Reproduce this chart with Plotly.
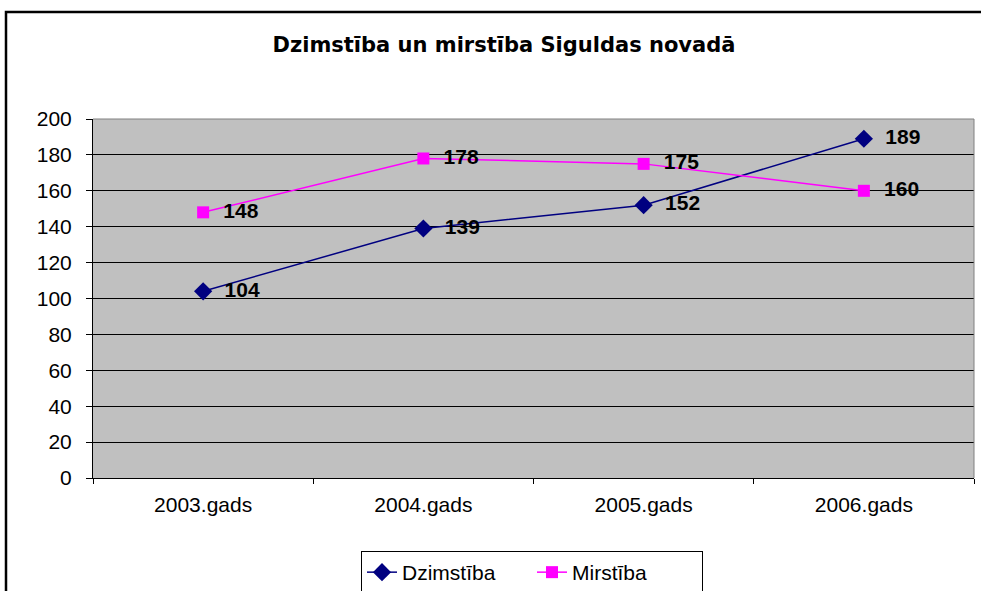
import plotly.graph_objects as go

categories = ["2003.gads", "2004.gads", "2005.gads", "2006.gads"]
dzimstiba = [104, 139, 152, 189]
mirstiba = [148, 178, 175, 160]
y_ticks = list(range(0, 201, 20))

FONT = "Liberation Sans, Arial, sans-serif"

fig = go.Figure()
fig.add_trace(go.Scatter(
    x=categories, y=dzimstiba, name="Dzimstība", mode="lines+markers+text",
    line=dict(color="#000080", width=1.5),
    marker=dict(symbol="diamond", size=14, color="#000080"),
    text=["  " + str(v) for v in dzimstiba], textposition="middle right",
    textfont=dict(family=FONT, size=21, color="black", weight="bold"),
    cliponaxis=False,
))
fig.add_trace(go.Scatter(
    x=categories, y=mirstiba, name="Mirstība", mode="lines+markers+text",
    line=dict(color="#FF00FF", width=1.5),
    marker=dict(symbol="square", size=12, color="#FF00FF"),
    text=["  " + str(v) for v in mirstiba], textposition="middle right",
    textfont=dict(family=FONT, size=21, color="black", weight="bold"),
    cliponaxis=False,
))

W, H = 981, 591
L, R, T, B = 93, 7, 119, 113
pw = W - L - R
ph = H - T - B

def px_x(p):
    return (p - L) / pw

def px_y(p):
    return (H - B - p) / ph

fig.update_layout(
    width=W, height=H,
    margin=dict(l=L, r=R, t=T, b=B, autoexpand=False),
    paper_bgcolor="white", plot_bgcolor="#C0C0C0",
    font=dict(family=FONT, size=21, color="black"),
    title=dict(text="<b>Dzimstība un mirstība Siguldas novadā</b>",
               x=504 / W, xanchor="center", y=1 - 45 / H, yanchor="middle",
               font=dict(family="DejaVu Sans, sans-serif", size=21, color="black")),
    showlegend=True,
    legend=dict(orientation="h", x=px_x(532), xanchor="center",
                y=px_y(551), yanchor="top",
                bordercolor="black", borderwidth=1, bgcolor="white",
                font=dict(family=FONT, size=21, color="black"),
                tracegroupgap=0, entrywidth=125),
    xaxis=dict(type="category", showgrid=False, showline=True, linecolor="black",
               linewidth=1, mirror=False, ticks="outside", tickson="boundaries",
               ticklen=5, tickcolor="black", ticklabelstandoff=8,
               tickfont=dict(size=21),
               range=[-0.5, 3.5], fixedrange=True, automargin=False),
    yaxis=dict(range=[0, 200], tickvals=y_ticks, showgrid=True, gridcolor="black",
               gridwidth=1, showline=True, linecolor="black", linewidth=1,
               ticks="outside", ticklen=6, tickcolor="black", ticklabelstandoff=10,
               tickfont=dict(size=21), zeroline=False, fixedrange=True,
               automargin=False),
    shapes=[
        dict(type="rect", xref="paper", yref="paper",
             x0=px_x(6), x1=px_x(1000), y0=px_y(620), y1=px_y(12),
             line=dict(color="black", width=2.5), fillcolor="rgba(0,0,0,0)",
             layer="below"),
        dict(type="line", xref="paper", yref="paper",
             x0=1, x1=1, y0=0, y1=1, line=dict(color="#808080", width=1)),
        dict(type="line", xref="paper", yref="paper",
             x0=0, x1=1, y0=1, y1=1, line=dict(color="#808080", width=1)),
    ],
)

fig.write_html(
    "out.html",
    config={"displayModeBar": False},
    post_script="document.body.style.margin='0';document.body.style.padding='0';document.body.style.overflow='hidden';",
)
